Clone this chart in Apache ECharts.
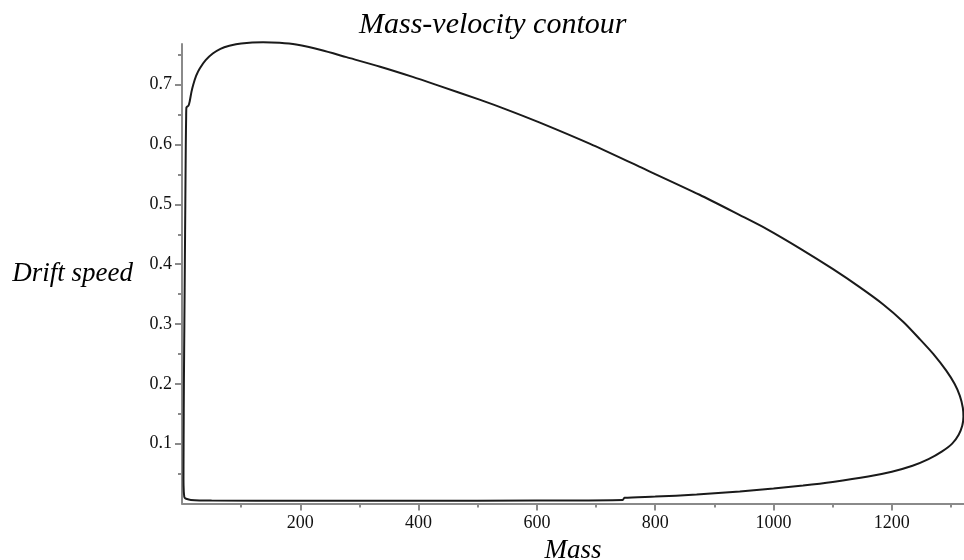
<!DOCTYPE html>
<html>
<head>
<meta charset="utf-8">
<title>Mass-velocity contour</title>
<script src="https://cdn.jsdelivr.net/npm/echarts@6/dist/echarts.min.js"></script>
<style>
  html, body { margin: 0; padding: 0; background: #fff; }
  #chart { width: 964px; height: 560px; }
</style>
</head>
<body>
<div id="chart"></div>
<script>
  // contour: left side up, over the top, round the tip, back along the bottom
  var mass = [
    4, 3, 2.5, 2.7, 3.2, 4, 4.8, 5.6, 6.4, 7, 7.5, 11, 13, 16, 19, 24, 30, 40, 52, 65,
    80, 100, 137, 165, 193, 235, 278, 335, 390, 435, 503, 550, 604, 690, 773, 875, 943, 988, 1045, 1100,
    1145, 1185, 1220, 1247, 1270, 1292, 1306, 1315, 1320, 1321, 1319, 1313, 1302, 1285, 1262, 1235, 1200, 1160, 1100, 1050,
    1000, 943, 870, 800, 748, 745, 600, 400, 200, 50, 15, 7, 4
  ]
  var speed = [
    0.010, 0.020, 0.040, 0.100, 0.200, 0.300, 0.400, 0.500, 0.600, 0.645, 0.662, 0.665, 0.672, 0.688, 0.700, 0.715, 0.727, 0.741, 0.752, 0.760,
    0.765, 0.769, 0.771, 0.770, 0.767, 0.758, 0.746, 0.730, 0.713, 0.698, 0.675, 0.658, 0.637, 0.601, 0.563, 0.516, 0.482, 0.459, 0.426, 0.392,
    0.362, 0.333, 0.303, 0.275, 0.250, 0.222, 0.200, 0.180, 0.160, 0.145, 0.130, 0.115, 0.100, 0.087, 0.074, 0.063, 0.053, 0.045, 0.036, 0.030,
    0.025, 0.020, 0.015, 0.0115, 0.0095, 0.006, 0.005, 0.0045, 0.0045, 0.005, 0.006, 0.008, 0.010
  ]

  var massLabels = [200, 400, 600, 800, 1000, 1200]
  var massMinor = [100, 300, 500, 700, 900, 1100, 1300]
  var speedLabels = [0.1, 0.2, 0.3, 0.4, 0.5, 0.6, 0.7]
  var speedMinor = [0.05, 0.15, 0.25, 0.35, 0.45, 0.55, 0.65, 0.75]

  var serif = '"Liberation Serif", "DejaVu Serif", serif'
  var axisGrey = '#8a8a8a'

  var points = mass.map(function(m, i) {
    return [m, speed[i]]
  })

  var chart = echarts.init(document.getElementById('chart'), null, { renderer: 'canvas' })

  chart.setOption({
    animation: false,
    backgroundColor: '#fff',
    title: {
      text: 'Mass-velocity contour',
      left: 354,
      top: 5,
      textStyle: {
        fontFamily: serif,
        fontStyle: 'italic',
        fontWeight: 'normal',
        fontSize: 30,
        color: '#000'
      }
    },
    grid: {
      left: 182,
      right: 0,
      top: 44,
      bottom: 56.5,
      containLabel: false,
      outerBoundsMode: 'none'
    },
    xAxis: [
      {
        type: 'value',
        min: 0,
        max: 1322,
        name: 'Mass',
        nameLocation: 'middle',
        nameGap: 30,
        nameTextStyle: {
          fontFamily: serif,
          fontStyle: 'italic',
          fontSize: 27,
          color: '#000'
        },
        splitLine: { show: false },
        axisLine: { lineStyle: { color: axisGrey, width: 2 } },
        axisTick: {
          customValues: massLabels,
          length: 7,
          lineStyle: { color: axisGrey, width: 2 }
        },
        axisLabel: {
          customValues: massLabels,
          formatter: function(v) { return String(v) },
          margin: 11,
          fontFamily: serif,
          fontSize: 18,
          color: '#111'
        }
      },
      {
        type: 'value',
        min: 0,
        max: 1322,
        position: 'bottom',
        splitLine: { show: false },
        axisLine: { show: false },
        axisTick: {
          customValues: massMinor,
          length: 4,
          lineStyle: { color: axisGrey, width: 2 }
        },
        axisLabel: { show: false }
      }
    ],
    yAxis: [
      {
        type: 'value',
        min: 0,
        max: 0.768,
        name: 'Drift speed',
        nameLocation: 'middle',
        nameRotate: 0,
        nameGap: 49,
        nameTextStyle: {
          fontFamily: serif,
          fontStyle: 'italic',
          fontSize: 27,
          color: '#000',
          align: 'right'
        },
        splitLine: { show: false },
        axisLine: { lineStyle: { color: axisGrey, width: 2 } },
        axisTick: {
          customValues: speedLabels,
          length: 7,
          lineStyle: { color: axisGrey, width: 2 }
        },
        axisLabel: {
          customValues: speedLabels,
          margin: 10,
          fontFamily: serif,
          fontSize: 18,
          color: '#111'
        }
      },
      {
        type: 'value',
        min: 0,
        max: 0.768,
        position: 'left',
        splitLine: { show: false },
        axisLine: { show: false },
        axisTick: {
          customValues: speedMinor,
          length: 4,
          lineStyle: { color: axisGrey, width: 2 }
        },
        axisLabel: { show: false }
      }
    ],
    series: [
      {
        name: 'contour',
        type: 'line',
        xAxisIndex: 0,
        yAxisIndex: 0,
        data: points,
        showSymbol: false,
        smooth: 0.25,
        clip: false,
        lineStyle: { color: '#1a1a1a', width: 2 }
      }
    ]
  })
</script>
</body>
</html>
